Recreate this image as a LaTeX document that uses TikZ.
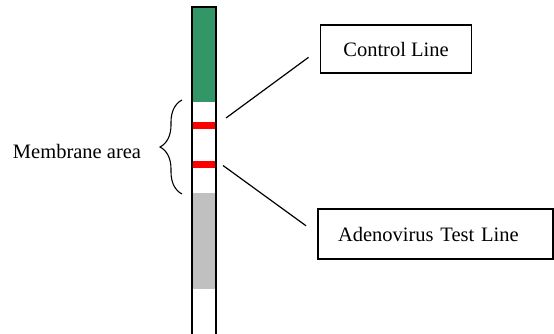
\documentclass[tikz,border=0pt]{standalone}
\usepackage{fontspec}
\setmainfont{Liberation Serif}
\usepackage{tikz}
\usetikzlibrary{positioning, decorations.pathreplacing}
\definecolor{stripgreen}{RGB}{51,150,103}
\definecolor{stripgray}{RGB}{192,192,192}
\tikzset{
	labelbox/.style={draw, line width=1.3pt, minimum height=48pt, font=\fontsize{20.5}{24}\selectfont},
	leader/.style={line width=1.2pt, shorten >=14pt}
}

\begin{document}
\begin{tikzpicture}[x=1pt, y=1pt]
		\useasboundingbox (0, 0) rectangle (554, -334);
		\clip (0, 0) rectangle (554, -334);

		% test strip
		\fill[stripgreen] (192, -7) rectangle (216, -102);
		\fill[stripgray] (192, -193) rectangle (216, -289);
		\fill[red] (192, -122.5) rectangle (216, -129.5);
		\fill[red] (192, -161) rectangle (216, -168);
		\draw[line width=1.8pt] (192, -350) -- (192, -7) -- (216, -7) -- (216, -350);

		% membrane brace
		\draw[line width=1.1pt, decorate, decoration={brace, amplitude=22pt}] (182, -194) -- (182, -100);
		\node[font=\fontsize{20.5}{24}\selectfont] (membrane) at (77, -151) {Membrane area};

		% labels
		\node[labelbox, minimum width=151pt] (control) at (396, -49) {Control Line};
		\node[labelbox, minimum height=50pt, text width=195pt, inner xsep=20pt, align=left] (adeno) at (435.5, -234) {Adenovirus Test Line};

		\coordinate (cline) at (226, -118);
		\coordinate (tline) at (223, -165.5);
		\draw[leader] (cline) -- (control.west);
		\draw[leader] (tline) -- (adeno.west);
	\end{tikzpicture}
\end{document}
